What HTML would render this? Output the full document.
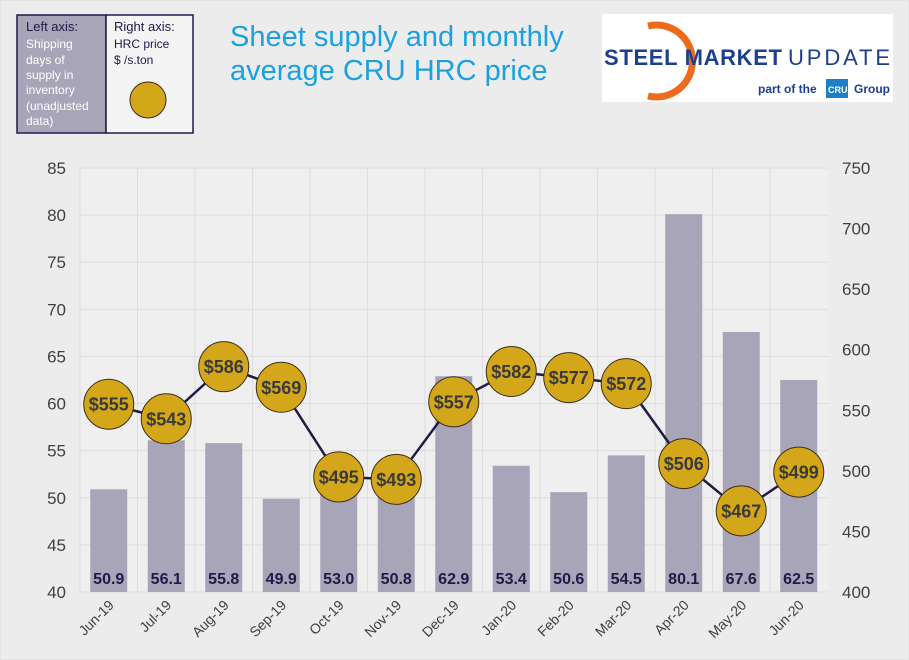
<!DOCTYPE html>
<html><head><meta charset="utf-8"><style>
body{margin:0;width:909px;height:660px;background:#ececec;font-family:"Liberation Sans",sans-serif;overflow:hidden}
</style></head><body>
<svg width="909" height="660" style="position:absolute;left:0;top:0">
<rect x="0" y="0" width="909" height="660" fill="#ececec" stroke="#dcdcdc"/>
<g id="legend">
<rect x="17" y="15" width="89" height="118" fill="#a9a5b8" stroke="#1f1a4a" stroke-width="1.5"/>
<rect x="106" y="15" width="87" height="118" fill="#f4f4f4" stroke="#1f1a4a" stroke-width="1.5"/>
<text x="26" y="31" font-size="13" fill="#1f1a4a">Left axis:</text>
<text font-size="12" fill="#ffffff"><tspan x="26" y="48">Shipping</tspan><tspan x="26" y="64">days of</tspan><tspan x="26" y="79">supply in</tspan><tspan x="26" y="94">inventory</tspan><tspan x="26" y="110">(unadjusted</tspan><tspan x="26" y="125">data)</tspan></text>
<text x="114" y="31" font-size="13" fill="#1f1a4a">Right axis:</text>
<text font-size="12" fill="#1f1a4a"><tspan x="114" y="48">HRC  price</tspan><tspan x="114" y="64">$ /s.ton</tspan></text>
<circle cx="148" cy="100" r="18" fill="#d4a71a" stroke="#3a2e1a" stroke-width="1"/>
</g>
<text font-size="29" fill="#1ba1e2"><tspan x="230" y="46">Sheet supply and monthly</tspan><tspan x="230" y="80">average CRU HRC price</tspan></text>
<g>
<rect x="602" y="14" width="291" height="88" fill="#ffffff"/>
<path d="M648 26 A36 36 0 1 1 648 96" fill="none" stroke="#ee6a1c" stroke-width="7"/>
<text x="604" y="65" font-size="22" font-weight="bold" fill="#1d3f8f" textLength="178">STEEL MARKET</text>
<text x="788" y="65" font-size="22" fill="#1d3f8f" textLength="102">UPDATE</text>
<text x="758" y="93" font-size="12" font-weight="bold" fill="#1d3f8f">part of the</text>
<rect x="826" y="79" width="22" height="19" fill="#1e7fc6"/>
<text x="828" y="93" font-size="9" font-weight="bold" fill="#fff">CRU</text>
<text x="854" y="93" font-size="12" font-weight="bold" fill="#1d3f8f">Group</text>
</g>
<rect x="80" y="168" width="748" height="424" fill="#efefef"/>
<g id="grid"></g><g id="bars"></g><g id="line"></g><g id="axes"></g>
</svg>
<script>
const categories=["Jun-19","Jul-19","Aug-19","Sep-19","Oct-19","Nov-19","Dec-19","Jan-20","Feb-20","Mar-20","Apr-20","May-20","Jun-20"];
const supplyDays=[50.9,56.1,55.8,49.9,53.0,50.8,62.9,53.4,50.6,54.5,80.1,67.6,62.5];
const hrcPrice=[555,543,586,569,495,493,557,582,577,572,506,467,499];
const leftTicks=[40,45,50,55,60,65,70,75,80,85];
const rightTicks=[400,450,500,550,600,650,700,750];
const NS="http://www.w3.org/2000/svg";
const x0=80,step=57.5,yb=592,yt=168;
const xc=i=>x0+step*(i+0.5);
const yl=v=>yb-(v-40)/45*(yb-yt);
const yr=v=>yb-(v-400)/350*(yb-yt);
function mk(t,a,p){const e=document.createElementNS(NS,t);for(const k in a)e.setAttribute(k,a[k]);p.appendChild(e);return e;}
const G=document.getElementById('grid'),B=document.getElementById('bars'),L=document.getElementById('line'),A=document.getElementById('axes');
leftTicks.forEach(v=>{const g=mk('line',{x1:x0,x2:828,y1:yl(v),y2:yl(v),stroke:'#dedede'},G);

const t=mk('text',{x:66,y:yl(v)+6,'font-size':17,fill:'#404040','text-anchor':'end'},A);t.textContent=v;
});
rightTicks.forEach(v=>{const t=mk('text',{x:842,y:yr(v)+6,'font-size':17,fill:'#404040'},A);t.textContent=v;
});
categories.forEach((c,i)=>{const g=mk('line',{x1:x0+step*i,x2:x0+step*i,y1:yt,y2:yb,stroke:'#dedede'},G);

const t=mk('text',{x:0,y:0,'font-size':14,fill:'#404040','text-anchor':'end',transform:`translate(${xc(i)+6},${yb+14}) rotate(-45)`},A);t.textContent=c;
});
supplyDays.forEach((v,i)=>{const r=mk('rect',{x:xc(i)-18.5,y:yl(v),width:37,height:yb-yl(v),fill:'#a9a5b8'},B);

const t=mk('text',{x:xc(i),y:584,'font-size':16,'font-weight':'bold',fill:'#1f1a4a','text-anchor':'middle'},B);t.textContent=v.toFixed(1);
});
const pl=mk('polyline',{points:hrcPrice.map((v,i)=>xc(i)+','+yr(v)).join(' '),fill:'none',stroke:'#221c45','stroke-width':2.5},L);

hrcPrice.forEach((v,i)=>{const c=mk('circle',{cx:xc(i),cy:yr(v),r:25,fill:'#d4a71a',stroke:'#3a2e1a','stroke-width':1},L);

const t=mk('text',{x:xc(i),y:yr(v)+6.5,'font-size':18,'font-weight':'bold',fill:'#3a3a3a','text-anchor':'middle'},L);t.textContent='$'+v;
});
</script>
</body></html>
